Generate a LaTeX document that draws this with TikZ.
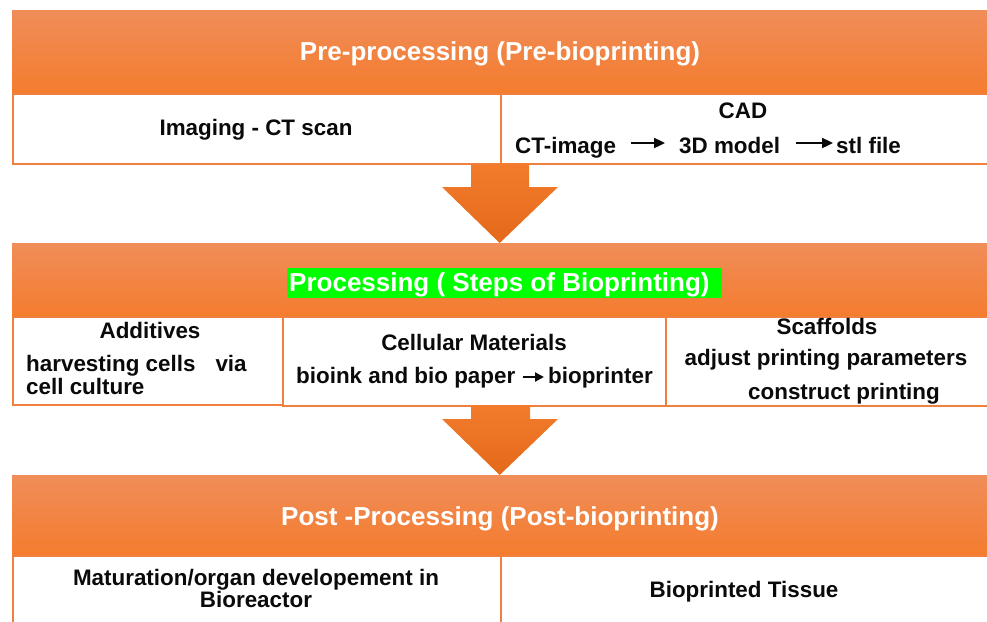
\documentclass[tikz,border=0pt]{standalone}
\usepackage{fontspec}
\setmainfont{Liberation Sans}
\usetikzlibrary{arrows.meta}
\definecolor{barTop}{HTML}{F08D59}
\definecolor{barBot}{HTML}{F47C2E}
\definecolor{arrTop}{HTML}{F27C2C}
\definecolor{arrBot}{HTML}{E4691A}
\definecolor{edge}{HTML}{F0803F}
\definecolor{hlgreen}{HTML}{00FF00}
\definecolor{ink}{HTML}{0A0A0A}
\begin{document}
\begin{tikzpicture}[x=1pt,y=-1pt,
  bar/.style={top color=barTop,bottom color=barBot,draw=none,inner sep=0,
    anchor=north west,minimum width=975pt},
  cell/.style={draw=edge,line width=1.8pt,fill=white,inner sep=0,anchor=north west},
  head/.style={text=white,font=\bfseries\fontsize{26}{30}\selectfont,anchor=base,inner sep=0},
  body/.style={text=ink,font=\bfseries\fontsize{22.4}{26}\selectfont,anchor=base,inner sep=0},
  bigarrow/.style={top color=arrTop,bottom color=arrBot,draw=none},
  txtarrow/.style={draw=ink,line width=2.3pt,-{Triangle[length=11pt,width=10pt]}},
  smallarrow/.style={draw=ink,line width=2pt,-{Triangle[length=9pt,width=9pt]}}]
\useasboundingbox (0,0) rectangle (987,621);

% ---------- stage 1: pre-processing ----------
\node (bar1) [bar,minimum height=83pt] at (12,10) {};
\node (imgcell) [cell,minimum width=488pt,minimum height=70pt] at (12,93) {};
\node (cadcell) [cell,minimum width=487pt,minimum height=70pt] at (500,93) {};
\node (h1) [head] at (500,60) {Pre-processing (Pre-bioprinting)};
\node (imaging) [body] at (256,135) {Imaging - CT scan};
\node (cad) [body] at (743,118) {CAD};
\node (ctimg) [body,anchor=base west] at (515,153) {CT-image};
\node (model) [body,anchor=base west] at (679,153) {3D model};
\node (stl) [body,anchor=base west] at (836,153) {stl file};
\draw[txtarrow] ([xshift=-48pt,yshift=10pt]model.base west) -- ([xshift=-14pt,yshift=10pt]model.base west);
\draw[txtarrow] ([xshift=-40pt,yshift=10pt]stl.base west) -- ([xshift=-3pt,yshift=10pt]stl.base west);

% ---------- stage 2: processing ----------
\node (bar2) [bar,minimum height=73pt] at (12,243) {};
\fill[hlgreen] (287,268) rectangle (722,298);
\node (h2) [head,anchor=base west] at (289,291) {Processing ( Steps of Bioprinting)};
\node (addcell) [cell,minimum width=270pt,minimum height=88pt] at (12,316) {};
\node (cellcell) [cell,minimum width=383pt,minimum height=89pt] at (282,316) {};
\node (scafcell) [cell,minimum width=322pt,minimum height=89pt] at (665,316) {};
\node (additives) [body] at (150,338) {Additives};
\node (harvest) [body,anchor=base west] at (26,371) {harvesting cells\hspace{20pt}via};
\node (culture) [body,anchor=base west] at (26,394) {cell culture};
\node (cellmat) [body] at (474,350) {Cellular Materials};
\node (bioink) [body,anchor=base west] at (296,383) {bioink and bio paper};
\node (printer) [body,anchor=base west] at (548,383) {bioprinter};
\draw[smallarrow] ([xshift=-25pt,yshift=6pt]printer.base west) -- ([xshift=-4pt,yshift=6pt]printer.base west);
\node (scaffolds) [body] at (827,334) {Scaffolds};
\node (adjust) [body] at (826,365) {adjust printing parameters};
\node (construct) [body] at (844,399) {construct printing};

% ---------- stage 3: post-processing ----------
\node (bar3) [bar,minimum height=80pt] at (12,475) {};
\node (matcell) [cell,minimum width=488pt,minimum height=70pt] at (12,555) {};
\node (tiscell) [cell,minimum width=487pt,minimum height=70pt] at (500,555) {};
\node (h3) [head] at (500,525) {Post -Processing (Post-bioprinting)};
\node (maturation) [body] at (256,585) {Maturation/organ developement in};
\node (bioreactor) [body] at (256,607) {Bioreactor};
\node (tissue) [body] at (744,597) {Bioprinted Tissue};

% ---------- block arrows between the stages ----------
\shade[bigarrow] (imgcell.south east -| 471,0) -- (529,163) -- (529,187) -- (558,187)
  -- (bar2.north) -- (442,187) -- (471,187) -- cycle;
\shade[bigarrow] (471,405) -- (530,405) -- (530,419) -- (558,419)
  -- (bar3.north) -- (442,419) -- (471,419) -- cycle;
\end{tikzpicture}
\end{document}
